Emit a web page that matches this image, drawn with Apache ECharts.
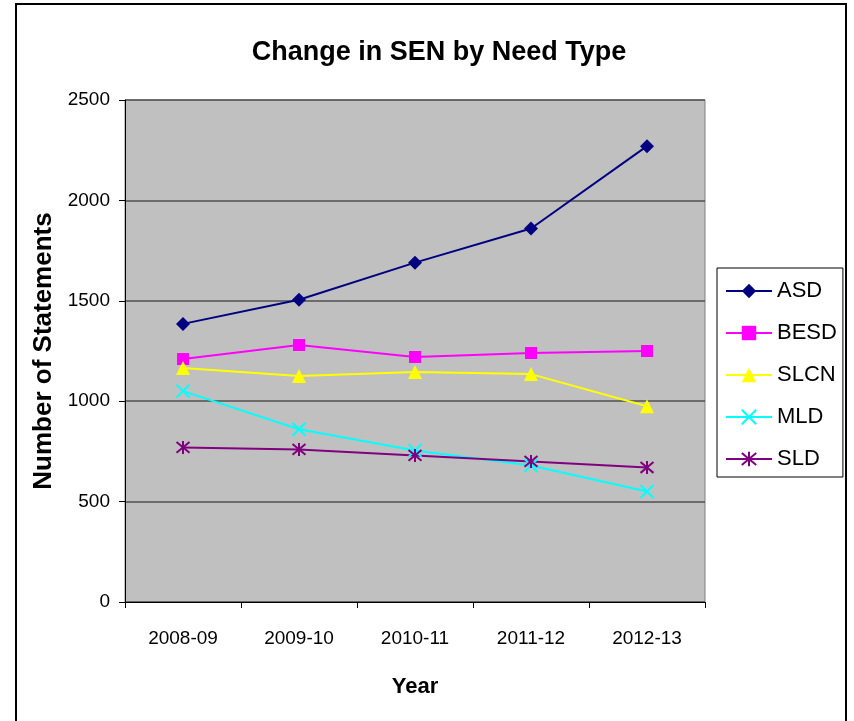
<!DOCTYPE html>
<html>
<head>
<meta charset="UTF-8">
<script src="https://cdn.jsdelivr.net/npm/echarts@6/dist/echarts.min.js"></script>
<style>
  html, body { margin: 0; padding: 0; background: #fff; }
  #main { width: 854px; height: 721px; }
</style>
</head>
<body>
<div id="main"></div>
<script>
// data
var years = ['2008-09', '2009-10', '2010-11', '2011-12', '2012-13'];
var asd  = [1385, 1505, 1690, 1860, 2270];
var besd = [1210, 1280, 1220, 1240, 1250];
var slcn = [1165, 1125, 1145, 1135, 975];
var mld  = [1050, 860, 755, 680, 550];
var sld  = [770, 760, 730, 700, 670];

var crossPath = 'path://M0,0L10,10M10,0L0,10';
var starPath = 'path://M0,0L10,10M10,0L0,10M5,-1L5,11';

var font = '"Liberation Sans", Arial, sans-serif';

function lineSeries(name, data, color, symbol, size, stroke) {
    var s = {
        name: name,
        type: 'line',
        data: data,
        symbol: symbol,
        symbolSize: size,
        lineStyle: { color: color, width: 2 },
        itemStyle: { color: color },
        emphasis: { disabled: true },
        z: 3
    };
    if (stroke) {
        s.itemStyle = { color: 'rgba(0,0,0,0)', borderColor: color, borderWidth: 2 };
    }
    return s;
}

var myChart = echarts.init(document.getElementById('main'));

var option = {
    backgroundColor: '#fff',
    animation: false,
    textStyle: { fontFamily: font },
    title: {
        text: 'Change in SEN by Need Type',
        left: 434,
        textAlign: 'center',
        top: 34,
        textStyle: { fontSize: 27, fontWeight: 'bold', color: '#000', fontFamily: font }
    },
    graphic: [{
        type: 'rect',
        shape: { x: 16, y: 4, width: 830, height: 730 },
        style: { fill: 'none', stroke: '#000', lineWidth: 2 },
        silent: true
    }],
    legend: {
        orient: 'vertical',
        left: 717,
        top: 268,
        padding: [12, 6, 7, 8],
        borderColor: '#000',
        borderWidth: 1,
        itemWidth: 46,
        itemHeight: 18,
        itemGap: 20,
        textStyle: { fontSize: 22, color: '#000', lineHeight: 22, fontFamily: font },
        data: ['ASD', 'BESD', 'SLCN', 'MLD', 'SLD']
    },
    grid: {
        left: 125,
        top: 100,
        width: 580,
        height: 502,
        show: true,
        backgroundColor: '#c0c0c0',
        borderColor: '#808080',
        borderWidth: 1
    },
    xAxis: {
        type: 'category',
        data: years,
        boundaryGap: true,
        name: 'Year',
        nameLocation: 'middle',
        nameGap: 74,
        nameTextStyle: { fontSize: 22, fontWeight: 'bold', color: '#000', fontFamily: font },
        axisLine: { lineStyle: { color: '#000', width: 1 } },
        axisTick: { show: true, length: 6, lineStyle: { color: '#000' } },
        axisLabel: { fontSize: 19, color: '#000', margin: 27, fontFamily: font }
    },
    yAxis: {
        type: 'value',
        min: 0,
        max: 2500,
        interval: 500,
        name: 'Number of Statements',
        nameLocation: 'middle',
        nameGap: 63,
        nameTextStyle: { fontSize: 26, fontWeight: 'bold', color: '#000', fontFamily: font },
        axisLine: { show: true, lineStyle: { color: '#000', width: 1 } },
        axisTick: { show: true, length: 6, lineStyle: { color: '#000' } },
        axisLabel: {
            fontSize: 19, color: '#000', margin: 15, fontFamily: font,
            formatter: function (v) { return String(v); }
        },
        splitLine: { show: true, lineStyle: { color: '#505050', width: 1.5 } }
    },
    series: [
        lineSeries('ASD', asd, '#000080', 'diamond', 14, false),
        lineSeries('BESD', besd, '#ff00ff', 'rect', 12, false),
        lineSeries('SLCN', slcn, '#ffff00', 'triangle', 14, false),
        lineSeries('MLD', mld, '#00ffff', crossPath, 13, true),
        lineSeries('SLD', sld, '#800080', starPath, 13, true)
    ]
};

myChart.setOption(option);
</script>
</body>
</html>
